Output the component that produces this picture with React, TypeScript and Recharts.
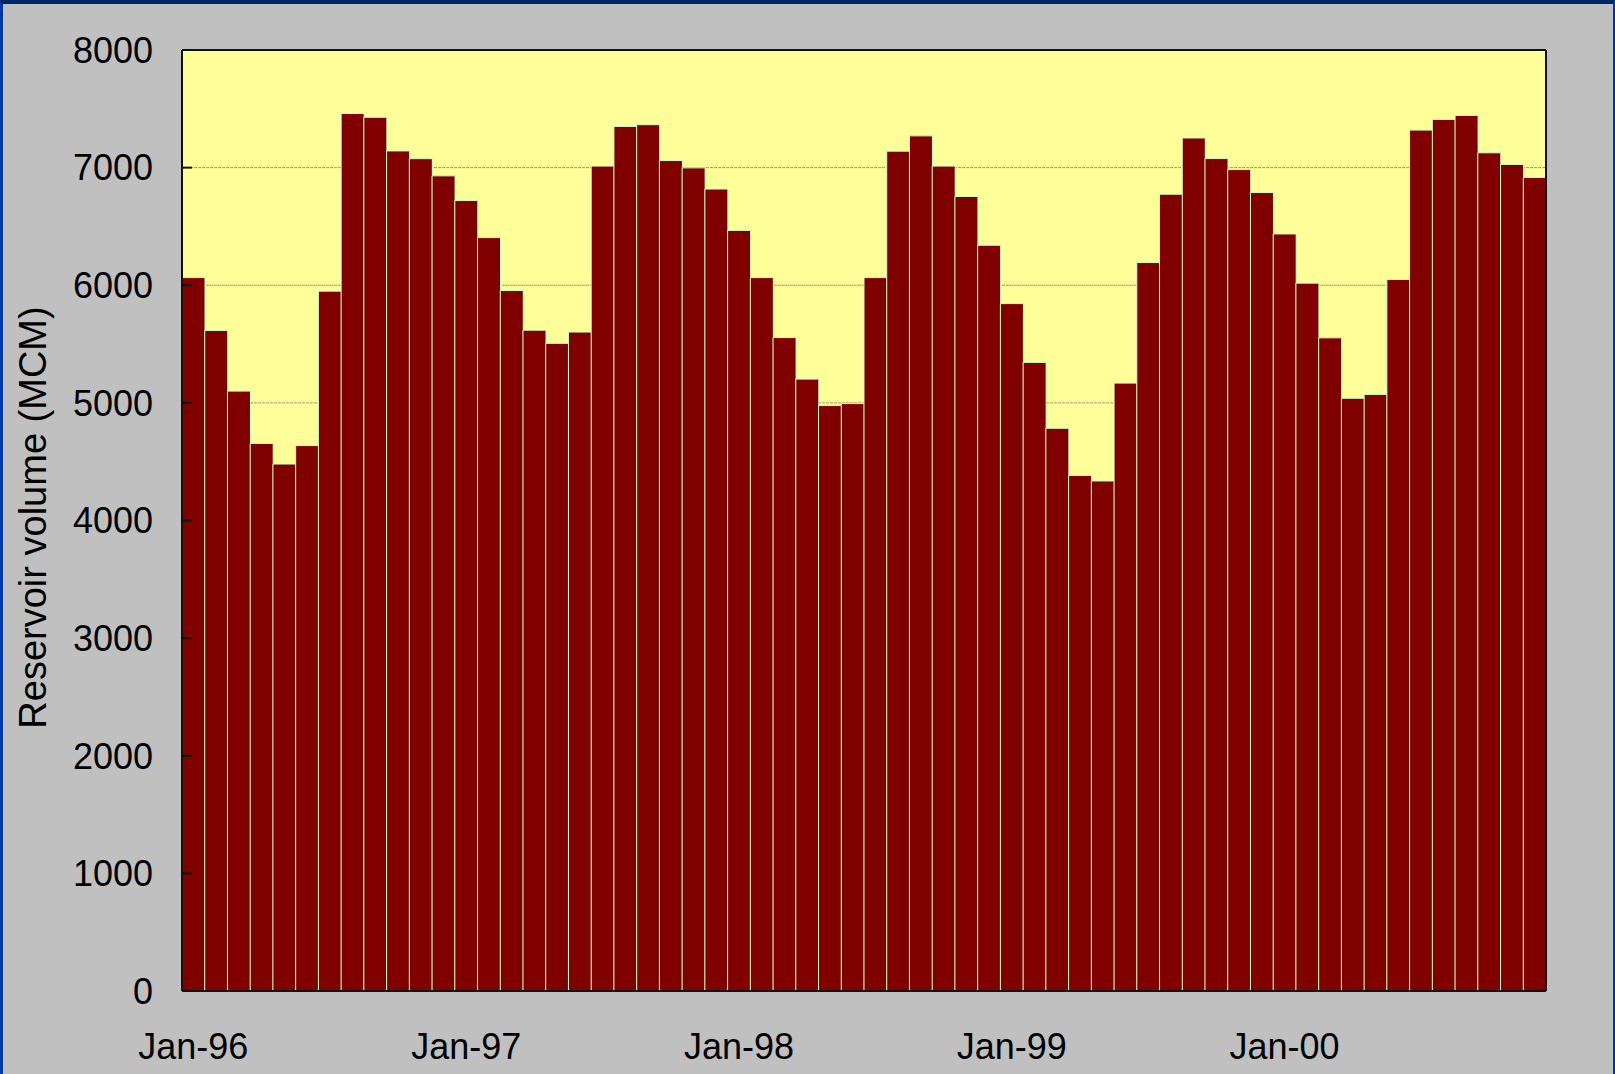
import { BarChart, Bar, XAxis, YAxis, CartesianGrid } from 'recharts';

const years = ['96', '97', '98', '99', '00'];
const monthNames = ['Jan', 'Feb', 'Mar', 'Apr', 'May', 'Jun', 'Jul', 'Aug', 'Sep', 'Oct', 'Nov', 'Dec'];

// reservoir volume, MCM, monthly Jan-96 .. Dec-00
const volume96 = [6065, 5615, 5100, 4655, 4480, 4637, 5950, 7460, 7428, 7142, 7076, 6930];
const volume97 = [6720, 6405, 5955, 5618, 5506, 5602, 7013, 7350, 7365, 7060, 6998, 6818];
const volume98 = [6466, 6065, 5555, 5202, 4977, 4994, 6065, 7140, 7270, 7013, 6755, 6340];
const volume99 = [5844, 5344, 4784, 4383, 4336, 5168, 6193, 6774, 7252, 7077, 6983, 6788];
const volume00 = [6436, 6018, 5553, 5039, 5072, 6049, 7319, 7410, 7444, 7126, 7027, 6917];

const yTicks = [0, 1000, 2000, 3000, 4000, 5000, 6000, 7000, 8000];

const volumes = [volume96, volume97, volume98, volume99, volume00];
const data = years.flatMap((yr, i) =>
  monthNames.map((m, j) => ({ month: `${m}-${yr}`, volume: volumes[i][j] }))
);

const font = '"Liberation Sans", Arial, sans-serif';

function YTitle(props: any) {
  const vb = props.viewBox || {};
  const cx = 33;
  const cy = vb.y + vb.height / 2 - 3;
  return (
    <text
      x={cx}
      y={cy}
      transform={`rotate(-90 ${cx} ${cy})`}
      textAnchor="middle"
      dominantBaseline="central"
      fontFamily={font}
      fontSize={38}
      fill="#000"
    >
      Reservoir volume (MCM)
    </text>
  );
}

export default function App() {
  return (
    <div
      style={{
        position: 'absolute',
        left: 0,
        top: 0,
        width: 1615,
        height: 1074,
        boxSizing: 'border-box',
        background: '#C0C0C0',
        borderTop: '4px solid #002466',
        borderLeft: '3px solid #0038A8',
        borderRight: '2px solid #0038A8',
        overflow: 'hidden',
      }}
    >
      <div style={{ position: 'absolute', left: -3, top: -4 }}>
        <BarChart
          width={1615}
          height={1074}
          data={data}
          barCategoryGap={0}
          margin={{ top: 49, right: 68, bottom: 24, left: 0 }}
        >
          <CartesianGrid
            vertical={false}
            fill="#FFFF99"
            fillOpacity={1}
            stroke="#9a9468"
            strokeDasharray="3 1"
          />
          <XAxis
            dataKey="month"
            interval={11}
            height={59}
            tickLine={false}
            tickSize={0}
            tickMargin={42}
            axisLine={{ stroke: '#111', strokeWidth: 2 }}
            tick={{ fill: '#000', fontSize: 36, fontFamily: font }}
          />
          <XAxis
            xAxisId="top"
            dataKey="month"
            orientation="top"
            height={1}
            tick={false}
            tickLine={false}
            axisLine={{ stroke: '#111', strokeWidth: 2 }}
          />
          <YAxis
            width={182}
            domain={[0, 8000]}
            ticks={yTicks}
            interval={0}
            tickSize={-10}
            tickMargin={39}
            tickLine={{ stroke: '#111', strokeWidth: 2 }}
            axisLine={{ stroke: '#111', strokeWidth: 2 }}
            tick={{ fill: '#000', fontSize: 36, fontFamily: font }}
            label={<YTitle />}
          />
          <YAxis
            yAxisId="right"
            orientation="right"
            width={1}
            domain={[0, 8000]}
            tick={false}
            tickLine={false}
            axisLine={{ stroke: '#111', strokeWidth: 2 }}
          />
          <Bar
            dataKey="volume"
            fill="#800000"
            stroke="#CCFFCC"
            strokeWidth={1}
            isAnimationActive={false}
          />
        </BarChart>
      </div>
    </div>
  );
}
